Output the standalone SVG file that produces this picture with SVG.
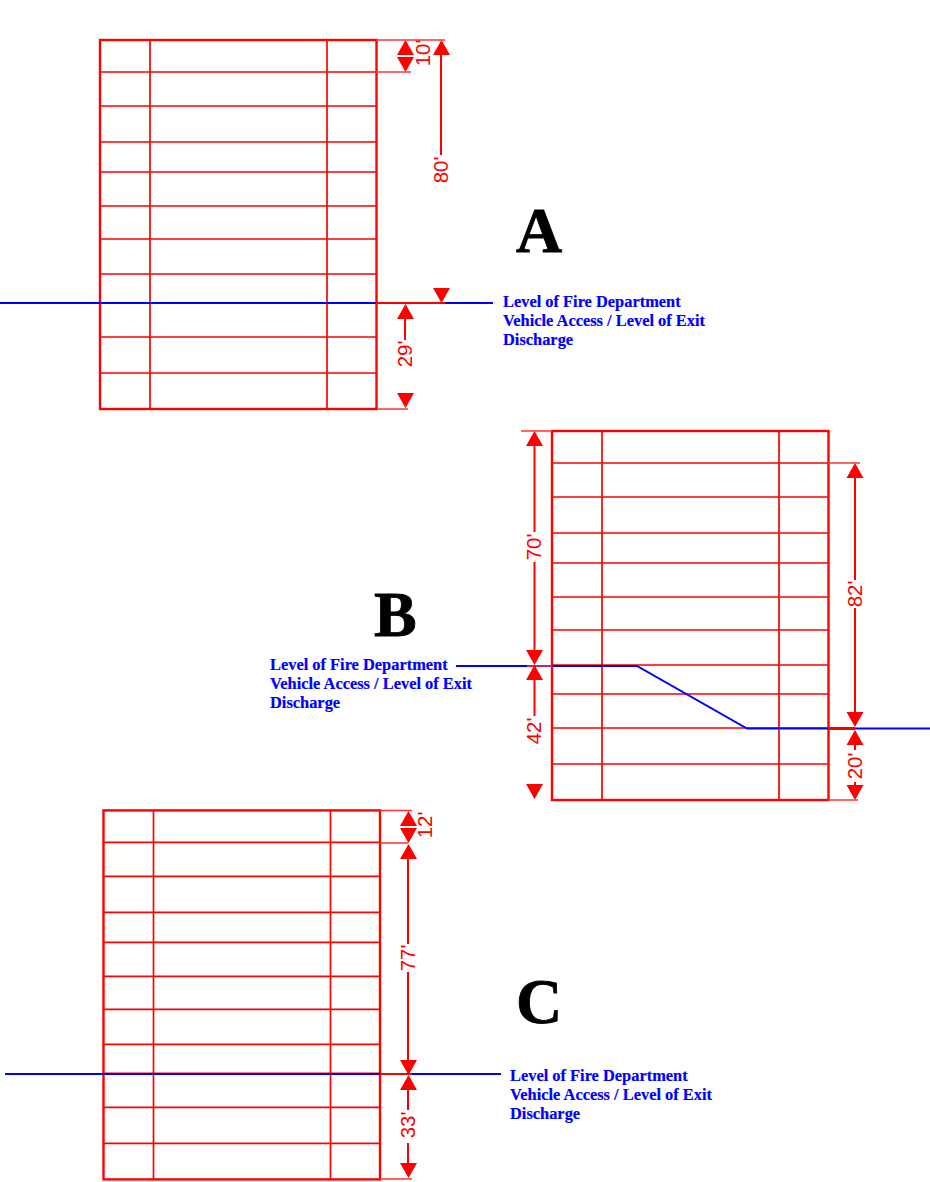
<svg xmlns="http://www.w3.org/2000/svg" width="930" height="1182" viewBox="0 0 930 1182">
<style>
.f{fill:none;stroke:#f00;stroke-width:1.7}
.o{fill:none;stroke:#f00;stroke-width:2.4}
.e{fill:none;stroke:#f33;stroke-width:1.6}
.d{fill:none;stroke:#f00;stroke-width:2}
.b{fill:none;stroke:#00f;stroke-width:2}
.a{fill:#f00;stroke:none}
.t{font-family:"Liberation Sans",Arial,sans-serif;font-size:20.500px;fill:#f00;text-anchor:middle}
.l{font-family:"Liberation Serif","Times New Roman",serif;font-weight:bold;font-size:16.400px;fill:#00f;stroke:#00f;stroke-width:.2}
.h{font-family:"Liberation Serif","Times New Roman",serif;font-weight:bold;font-size:64px;fill:#000;stroke:#000;stroke-width:.8}
</style>
<defs>
<g id="stair">
<path class="f" d="M100 72H376M100 106H376M100 142H376M100 172H376M100 206H376M100 239H376M100 274H376M100 303H376M100 337H376M100 373H376M150 40V409M327 40V409"/>
<rect class="o" x="100" y="40" width="276.500" height="369"/>
</g>
</defs>
<rect width="930" height="1182" fill="#fff"/>
<g id="stair-a"><use href="#stair"/></g>
<g id="stair-b"><use href="#stair" x="452" y="391"/></g>
<g id="stair-c"><use href="#stair" x="3.500" y="770.400"/></g>
<g id="connectors">
<path class="b" d="M0 303H376M445 303H493"/>
<path class="e" d="M376 40H445M376 72H411M378 409H408"/>
<path class="d" d="M441 55V155M405 319V340M376 303H445"/>
<path class="a" d="M405.500 40l8.500 15h-17zM405.500 72l8.500 -15h-17zM441.500 40l8.500 15h-17zM441.500 303l8.500 -15h-17zM405.500 304l8.500 15h-17zM405.500 408l8.500 -15h-17z"/>

<path class="b" d="M456 666H637L747 728.500H930"/>
<path class="e" d="M521 431H552M828 463H860M828 800H858M527 666H552"/>
<path class="d" d="M534.500 446V532M534.500 562V650M534.500 680V716M855 478V580M855 608V712M855 745V750M855 782V785"/>
<path class="f" style="stroke-width:3" d="M828 728.500H855"/>
<path class="a" d="M534.500 431l8.500 15h-17zM534.500 665l8.500 -15h-17zM534.500 665l8.500 15h-17zM534.500 799l8.500 -15h-17zM855 463l8.500 15h-17zM855 727l8.500 -15h-17zM855 730l8.500 15h-17zM855 800l8.500 -15h-17z"/>

<path class="b" d="M5 1074H380M412 1074H501"/>
<path class="e" d="M380 810.500H412M380 843H408M380 1179H412"/>
<path class="d" d="M408 859V944M408 972V1060M408 1090V1110M408 1143V1163M380 1074H412"/>
<path class="a" d="M408.500 811l8.500 15h-17zM408.500 843l8.500 -15h-17zM408.500 844l8.500 15h-17zM408.500 1075l8.500 -15h-17zM408.500 1075l8.500 15h-17zM408.500 1178l8.500 -15h-17z"/>
</g>
<g id="dimension-labels">
<text class="t" transform="translate(430 53) rotate(-90)">10'</text>
<text class="t" transform="translate(448 170) rotate(-90)">80'</text>
<text class="t" transform="translate(412 354) rotate(-90)">29'</text>
<text class="t" transform="translate(541 547) rotate(-90)">70'</text>
<text class="t" transform="translate(541 731) rotate(-90)">42'</text>
<text class="t" transform="translate(862 594) rotate(-90)">82'</text>
<text class="t" transform="translate(862 766) rotate(-90)">20'</text>
<text class="t" transform="translate(432 825) rotate(-90)">12'</text>
<text class="t" transform="translate(415 958) rotate(-90)">77'</text>
<text class="t" transform="translate(415 1125) rotate(-90)">33'</text>
</g>
<g id="label-a">
<text class="h" x="516" y="252">A</text>
<text class="l" x="503" y="307">Level of Fire Department</text>
<text class="l" x="503" y="326">Vehicle Access / Level of Exit</text>
<text class="l" x="503" y="345">Discharge</text>
</g>
<g id="label-b">
<text class="h" x="374" y="636">B</text>
<text class="l" x="270" y="670">Level of Fire Department</text>
<text class="l" x="270" y="689">Vehicle Access / Level of Exit</text>
<text class="l" x="270" y="708">Discharge</text>
</g>
<g id="label-c">
<text class="h" x="516" y="1023">C</text>
<text class="l" x="510" y="1081">Level of Fire Department</text>
<text class="l" x="510" y="1100">Vehicle Access / Level of Exit</text>
<text class="l" x="510" y="1119">Discharge</text>
</g>
</svg>
